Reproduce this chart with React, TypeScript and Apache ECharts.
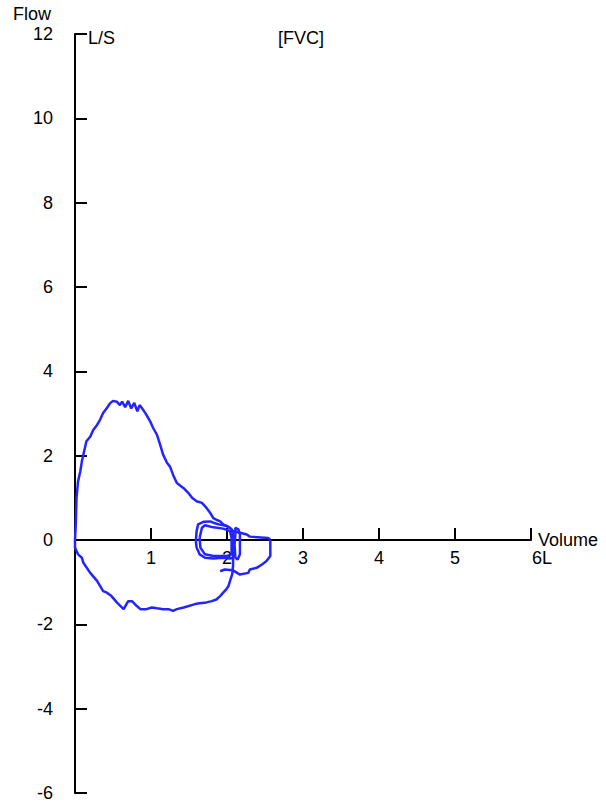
import React, { useEffect, useRef } from "react";
import * as echarts from "echarts";

const xTicks = [0, 1, 2, 3, 4, 5, 6];
const yTicks = [-6, -4, -2, 0, 2, 4, 6, 8, 10, 12];

const tidalOuter: number[][] = [
  [1.59, -0.03], [1.6, 0.21], [1.62, 0.37], [1.69, 0.43], [1.78, 0.44], [1.82, 0.41], [1.89, 0.37],
  [2.0, 0.33], [2.06, 0.25], [2.08, 0.13], [2.08, -0.11], [2.08, -0.42], [2.04, -0.44], [1.95, -0.42],
  [1.82, -0.44], [1.71, -0.42], [1.64, -0.34], [1.6, -0.18], [1.59, -0.03],
];

const tidalInner: number[][] = [
  [1.64, 0.05], [1.67, 0.29], [1.71, 0.35], [1.82, 0.3], [1.95, 0.27], [2.04, 0.21], [2.06, 0.05],
  [2.06, -0.34], [2.0, -0.38], [1.82, -0.38], [1.71, -0.34], [1.65, -0.18], [1.64, 0.05],
];

const tidalRight: number[][] = [
  [2.11, 0.13], [2.11, 0.29], [2.15, 0.25], [2.17, 0.13], [2.17, -0.34], [2.14, -0.46], [2.11, -0.42],
  [2.1, -0.11], [2.11, 0.13],
];

const deepInspiration: number[][] = [
  [2.08, -0.42], [2.08, -0.6], [2.07, -0.8], [2.06, -0.86], [2.04, -0.97], [2.02, -1.09], [1.99, -1.17],
  [1.95, -1.25], [1.91, -1.33], [1.86, -1.41], [1.8, -1.45], [1.73, -1.48], [1.64, -1.5], [1.58, -1.52],
  [1.43, -1.6], [1.34, -1.64], [1.29, -1.68], [1.23, -1.64], [1.16, -1.64], [1.08, -1.62], [1.01, -1.6],
  [0.94, -1.64], [0.86, -1.64], [0.81, -1.56], [0.75, -1.45], [0.7, -1.45], [0.64, -1.64], [0.55, -1.48],
  [0.48, -1.33], [0.42, -1.25], [0.37, -1.21], [0.29, -0.97], [0.2, -0.78], [0.11, -0.54], [0.09, -0.42],
  [0.04, -0.34], [0.02, -0.26], [0, -0.18], [0, 0],
];

const forcedExpiration: number[][] = [
  [0, 0], [0.01, 0.37], [0.02, 1.0], [0.04, 1.39], [0.07, 1.63], [0.09, 1.86], [0.11, 2.02], [0.15, 2.34],
  [0.2, 2.45], [0.24, 2.61], [0.29, 2.73], [0.33, 2.85], [0.37, 3.01], [0.42, 3.13], [0.46, 3.24],
  [0.5, 3.3], [0.55, 3.28], [0.59, 3.2], [0.62, 3.28], [0.66, 3.15], [0.7, 3.3], [0.74, 3.12], [0.78, 3.25],
  [0.82, 3.05], [0.85, 3.2], [0.88, 3.13], [0.91, 3.05], [0.94, 2.97], [0.99, 2.81], [1.03, 2.65],
  [1.08, 2.49], [1.12, 2.26], [1.16, 2.02], [1.21, 1.83], [1.25, 1.74], [1.29, 1.55], [1.34, 1.35],
  [1.43, 1.23], [1.49, 1.12], [1.54, 1.0], [1.6, 0.92], [1.67, 0.88], [1.73, 0.76], [1.78, 0.64],
  [1.82, 0.52], [1.86, 0.48], [1.91, 0.44], [1.95, 0.37], [2.04, 0.29], [2.08, 0.21], [2.17, 0.17],
  [2.26, 0.13], [2.3, 0.08], [2.54, 0.05], [2.57, 0.01],
];

const finalInspiration: number[][] = [
  [2.57, 0.01], [2.57, -0.38], [2.52, -0.5], [2.46, -0.58], [2.39, -0.66], [2.3, -0.7], [2.28, -0.78],
  [2.17, -0.82], [2.08, -0.72], [1.97, -0.7], [1.91, -0.74],
];

const segments = [tidalOuter, tidalInner, tidalRight, deepInspiration, forcedExpiration, finalInspiration];

const FONT = "Liberation Sans, Arial, sans-serif";
const LINE_COLOR = "#2424ff";

const GRID_TOP = 34;
const GRID_HEIGHT = 759;
const Y_MIN = yTicks[0];
const Y_MAX = yTicks[yTicks.length - 1];
const zeroFromBottom = (GRID_HEIGHT * (0 - Y_MIN)) / (Y_MAX - Y_MIN);

export default function App() {
  const ref = useRef<HTMLDivElement>(null);
  useEffect(() => {
    if (!ref.current) return;
    const chart = echarts.init(ref.current, undefined, { renderer: "svg" });
    chart.setOption({
      animation: false,
      backgroundColor: "#ffffff",
      grid: { left: 75, top: GRID_TOP, width: 456, height: GRID_HEIGHT, containLabel: false, outerBoundsMode: "none" },
      xAxis: {
        type: "value",
        min: xTicks[0],
        max: xTicks[xTicks.length - 1],
        interval: 1,
        position: "bottom",
        offset: -zeroFromBottom,
        name: "Volume",
        nameLocation: "end",
        nameGap: 7,
        nameMoveOverlap: false,
        nameTextStyle: { color: "#000", fontSize: 18, fontFamily: FONT, padding: [0, 0, 9, 0] },
        axisLine: { onZero: false, lineStyle: { color: "#000", width: 2 } },
        axisTick: { inside: true, length: 12, lineStyle: { color: "#000", width: 2 } },
        axisLabel: {
          color: "#000",
          fontSize: 18,
          fontFamily: FONT,
          margin: 9,
          formatter: (v: number) => (v === 0 ? "" : v === 6 ? "{l|6L}" : String(v)),
          rich: { l: { fontSize: 18, fontFamily: FONT, color: "#000", padding: [0, 0, 0, 22] } },
        },
        splitLine: { show: false },
      },
      yAxis: {
        type: "value",
        min: Y_MIN,
        max: Y_MAX,
        interval: 2,
        axisLine: { onZero: false, lineStyle: { color: "#000", width: 2 } },
        axisTick: { inside: true, length: 12, lineStyle: { color: "#000", width: 2 } },
        axisLabel: { color: "#000", fontSize: 18, fontFamily: FONT, margin: 22 },
        splitLine: { show: false },
      },
      graphic: [
        { type: "text", left: 13, top: 5, style: { text: "Flow", fontSize: 18, fontFamily: FONT, fill: "#000" } },
        { type: "text", left: 88, top: 29, style: { text: "L/S", fontSize: 18, fontFamily: FONT, fill: "#000" } },
        { type: "text", left: 278, top: 29, style: { text: "[FVC]", fontSize: 18, fontFamily: FONT, fill: "#000" } },
      ],
      series: segments.map((seg) => ({
        type: "line",
        data: seg,
        showSymbol: false,
        symbol: "none",
        lineStyle: { color: LINE_COLOR, width: 2.5 },
        itemStyle: { color: LINE_COLOR },
        silent: true,
      })),
    });
    return () => chart.dispose();
  }, []);
  return <div ref={ref} style={{ position: "fixed", left: 0, top: 0, width: 606, height: 803 }} />;
}
